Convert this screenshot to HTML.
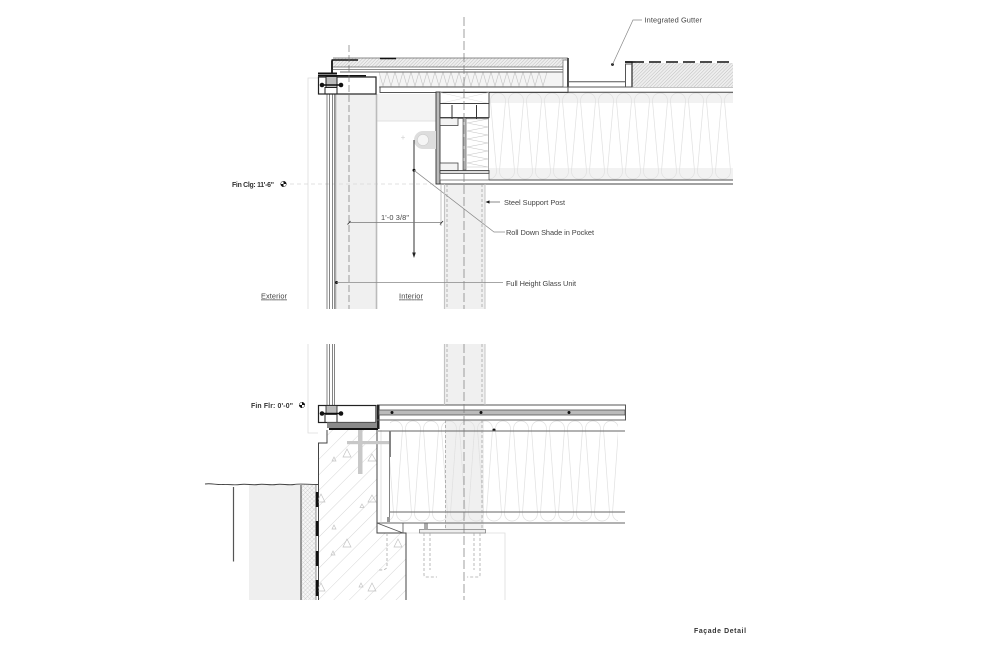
<!DOCTYPE html>
<html><head><meta charset="utf-8"><style>
html,body{margin:0;padding:0;background:#fff;width:1000px;height:647px;overflow:hidden}
svg{display:block;filter:blur(.3px)}
text{font-family:"Liberation Sans",sans-serif;font-size:7.4px;fill:#444}
.b{font-weight:bold;fill:#333;font-size:6.9px}
</style></head><body>
<svg width="1000" height="647" viewBox="0 0 1000 647" xmlns="http://www.w3.org/2000/svg">
<defs>
<pattern id="fine" patternUnits="userSpaceOnUse" width="2.4" height="2.4" patternTransform="rotate(45)"><rect width="2.4" height="2.4" fill="#eee"/><line x1="0" y1="0" x2="0" y2="2.4" stroke="#b5b5b5" stroke-width=".8"/></pattern>
<pattern id="cross" patternUnits="userSpaceOnUse" width="3" height="3" patternTransform="rotate(45)"><rect width="3" height="3" fill="#f6f6f6"/><path d="M0 0V3M0 0H3" stroke="#bbb" stroke-width=".6"/></pattern>
<pattern id="conc" patternUnits="userSpaceOnUse" width="11" height="11" patternTransform="rotate(45)"><line x1="0" y1="0" x2="0" y2="11" stroke="#c4c4c4" stroke-width=".7"/></pattern>
<pattern id="batt1" patternUnits="userSpaceOnUse" x="525" y="92" width="18" height="90"><path d="M-25.5,79 C-25.5,89.67 -10.5,89.67 -10.5,79 L-16.5,9 C-16.5,-1.67 -1.5,-1.67 -1.5,9 L-7.5,79 C-7.5,89.67 7.5,89.67 7.5,79 L1.5,9 C1.5,-1.67 16.5,-1.67 16.5,9 L10.5,79 C10.5,89.67 25.5,89.67 25.5,79 L19.5,9 C19.5,-1.67 34.5,-1.67 34.5,9 L28.5,79" fill="none" stroke="#e0e0e0" stroke-width=".7"/></pattern>
<pattern id="batt2" patternUnits="userSpaceOnUse" x="494" y="420" width="18" height="104"><path d="M-25.5,93 C-25.5,103.67 -10.5,103.67 -10.5,93 L-16.5,9 C-16.5,-1.67 -1.5,-1.67 -1.5,9 L-7.5,93 C-7.5,103.67 7.5,103.67 7.5,93 L1.5,9 C1.5,-1.67 16.5,-1.67 16.5,9 L10.5,93 C10.5,103.67 25.5,103.67 25.5,93 L19.5,9 C19.5,-1.67 34.5,-1.67 34.5,9 L28.5,93" fill="none" stroke="#e0e0e0" stroke-width=".7"/></pattern>
</defs>

<!-- light grey fills -->
<rect x="335" y="94" width="42" height="215" fill="#f0f0f0"/>
<rect x="377" y="94" width="59" height="27" fill="#f3f3f3"/>
<line x1="377" y1="121" x2="436" y2="121" stroke="#e2e2e2"/>
<rect x="445" y="184" width="40" height="125" fill="#f0f0f0"/>
<rect x="445" y="344" width="40" height="61" fill="#f0f0f0"/>
<rect x="445" y="420" width="39" height="109" fill="#f0f0f0"/>
<rect x="249" y="485" width="52" height="115" fill="#efefef"/>
<rect x="489" y="92" width="244" height="11" fill="#f2f2f2"/>
<rect x="489" y="168" width="244" height="12" fill="#f2f2f2"/>

<!-- light reference lines -->
<path d="M308 309V78H318M308 344V433H318" fill="none" stroke="#dcdcdc" stroke-width=".8"/>
<line x1="290" y1="184" x2="440" y2="184" stroke="#d8d8d8" stroke-width=".7" stroke-dasharray="4 3"/>
<path d="M406 533H505V600" fill="none" stroke="#ddd" stroke-width=".8"/>

<!-- batts -->
<rect x="489" y="92" width="244" height="90" fill="url(#batt1)"/>
<rect x="390" y="420" width="228" height="104" fill="url(#batt2)"/>

<!-- roof left part -->
<rect x="333" y="58" width="235" height="9" fill="url(#fine)"/>
<path d="M333 58H568M333 67H563M333 69.5H563" fill="none" stroke="#666" stroke-width=".8"/>
<rect x="379" y="72" width="184" height="15" fill="#f4f4f4"/>
<path d="M379 72 l4 14 4-14 4 14 4-14 4 14 4-14 4 14 4-14 4 14 4-14 4 14 4-14 4 14 4-14 4 14 4-14 4 14 4-14 4 14 4-14 4 14 4-14 4 14 4-14 4 14 4-14 4 14 4-14 4 14 4-14 4 14 4-14 4 14 4-14 4 14 4-14 4 14 4-14 4 14 4-14 4 14 4-14" fill="none" stroke="#c4c4c4" stroke-width=".6"/>
<path d="M340 72H563" stroke="#666" stroke-width=".9"/>
<path d="M379 87H733" stroke="#888" stroke-width="1"/>
<rect x="380" y="87" width="188" height="5.5" fill="#fff" stroke="#444" stroke-width=".9"/>
<path d="M440 92.3H733" stroke="#444" stroke-width="1"/>
<!-- parapet/gutter -->
<rect x="563" y="60" width="4.5" height="27" fill="#fff" stroke="#666" stroke-width=".7"/>
<path d="M568 58V87" stroke="#444" stroke-width="1.8"/>
<path d="M568 81.8H625M568 87H625" stroke="#555" stroke-width="1"/>
<rect x="632" y="63" width="101" height="24" fill="url(#fine)"/>
<rect x="625.5" y="64" width="6.5" height="23" fill="#fff" stroke="#555" stroke-width="1"/>
<path d="M625 62H632V87" fill="none" stroke="#444" stroke-width="1.4"/>
<line x1="632" y1="62" x2="731" y2="62" stroke="#111" stroke-width="1.6" stroke-dasharray="12 5"/>
<path d="M625 62H632" stroke="#111" stroke-width="1.6"/>
<!-- roof bottom -->
<path d="M489 180H733" stroke="#555" stroke-width="1"/>
<path d="M440 184H733" stroke="#444" stroke-width="1.1"/>

<!-- steel beam area -->
<rect x="436" y="92" width="4" height="92" fill="#bbb" stroke="#333" stroke-width=".9"/>
<rect x="440" y="92.5" width="49" height="11" fill="#fff" stroke="#333" stroke-width=".9"/>
<path d="M440 92.5L489 103.5M489 92.5L440 103.5" stroke="#ddd" stroke-width=".5"/>
<rect x="440" y="103.5" width="49" height="14" fill="#fff" stroke="#333" stroke-width=".9"/>
<path d="M440 118H489" stroke="#444" stroke-width="1.4"/>
<rect x="440" y="118" width="18" height="7.5" fill="#f3f3f3" stroke="#444" stroke-width=".8"/>
<rect x="440" y="163" width="18" height="7.5" fill="#f3f3f3" stroke="#444" stroke-width=".8"/>
<rect x="463" y="118" width="3" height="52" fill="#ccc" stroke="#444" stroke-width=".6"/>
<path d="M467 119h21l-21 4 21 4-21 4 21 4-21 4 21 4-21 4 21 4-21 4 21 4-21 4 21 4h-21" fill="none" stroke="#c4c4c4" stroke-width=".6"/>
<path d="M488.5 118V170" stroke="#888" stroke-width=".7"/>
<rect x="440" y="170.5" width="49" height="3" fill="#ddd" stroke="#333" stroke-width=".8"/>
<rect x="440" y="173.5" width="49" height="6.5" fill="#fff" stroke="#555" stroke-width=".7"/>
<path d="M452 105V119M476.500 105V119" stroke="#333" stroke-width="1"/>
<!-- roller -->
<rect x="423" y="131" width="13" height="18" fill="#ddd"/>
<circle cx="423" cy="140" r="9" fill="#ddd"/>
<circle cx="423" cy="140" r="5.6" fill="#f5f5f5" stroke="#ccc" stroke-width=".6"/>
<path d="M401 137.5h4M403 135.5v4" stroke="#ccc" stroke-width=".6"/>
<path d="M414 140V255" stroke="#333" stroke-width="1"/>
<path d="M412.2 252.5H415.8L414 258Z" fill="#222"/>
<circle cx="414" cy="170.3" r="1.5" fill="#111"/>
<path d="M414 170.3L494 232H505" fill="none" stroke="#888" stroke-width=".7"/>

<!-- glazing upper -->
<path d="M327 94V309M329.5 94V309M332.5 94V309M334.5 94V309" stroke="#666" stroke-width=".8"/>
<path d="M335.5 94V309" stroke="#aaa" stroke-width="1.6"/>
<path d="M376.5 94V309" stroke="#bbb" stroke-width="1.6"/>
<!-- glazing lower -->
<path d="M327 344V405M329.5 344V405M332.5 344V405M334.5 344V405" stroke="#666" stroke-width=".8"/>

<!-- head frame -->
<rect x="318.5" y="77" width="57.5" height="17" fill="#fff" stroke="#222" stroke-width="1.2"/>
<rect x="326" y="76.5" width="11" height="11" fill="#bbb" stroke="#222" stroke-width="1"/>
<path d="M318 73.5H337" stroke="#111" stroke-width="2"/>
<path d="M318 75.7H366" stroke="#111" stroke-width="1.3"/>
<path d="M332 60.5V73" stroke="#111" stroke-width="1.8"/>
<path d="M331.5 60H358M380 58.5H396" stroke="#111" stroke-width="1.4"/>
<path d="M320 85H343" stroke="#111" stroke-width="1.6"/>
<circle cx="322" cy="85" r="2.3" fill="#111"/><circle cx="341" cy="85" r="2.3" fill="#111"/>
<path d="M325 87V94M337 87V94" stroke="#222"/>

<!-- sill frame -->
<rect x="318.5" y="405.5" width="57.5" height="17" fill="#fff" stroke="#222" stroke-width="1.2"/>
<rect x="326" y="405.5" width="11" height="9" fill="#bbb" stroke="#222" stroke-width=".8"/>
<path d="M320 413.5H343" stroke="#111" stroke-width="1.6"/>
<circle cx="322" cy="413.5" r="2.3" fill="#111"/><circle cx="341" cy="413.5" r="2.3" fill="#111"/>
<path d="M325 414V422M337 414V422" stroke="#222"/>
<rect x="327" y="422.5" width="50" height="5.5" fill="#8a8a8a"/>
<rect x="329" y="428" width="49" height="2" fill="#111"/>

<!-- floor slab -->
<rect x="377.5" y="405" width="248" height="15" fill="#fff" stroke="#555" stroke-width="1"/>
<rect x="377" y="405" width="2.5" height="24" fill="#222"/>
<rect x="379" y="410" width="246" height="5" fill="#bbb" stroke="#555" stroke-width=".8"/>
<circle cx="392" cy="412.5" r="1.5" fill="#111"/><circle cx="481" cy="412.5" r="1.5" fill="#111"/><circle cx="569" cy="412.5" r="1.5" fill="#111"/>
<circle cx="494" cy="430" r="1.5" fill="#111"/>
<path d="M390 431H625M377 420H625" stroke="#666" stroke-width="1"/>
<path d="M390 512H625M377 523H625" stroke="#666" stroke-width="1.1"/>

<!-- concrete -->
<path d="M327 430V443H319V600H406V533H377V430Z" fill="url(#conc)"/>
<path d="M327 430V443H318.5V600M377 430V533H406V600" fill="none" stroke="#444" stroke-width="1"/>
<path d="M377 523L403 533M403 523V533" fill="none" stroke="#555" stroke-width=".8"/>
<path d="M381 430V523" stroke="#ccc" stroke-width=".6"/>
<path d="M378 431H390.5V457M389.5 431V520" fill="none" stroke="#777" stroke-width=".9"/>
<rect x="387" y="517" width="3" height="5" fill="#999"/>
<g fill="none" stroke="#c4c4c4" stroke-width=".7">
<path d="M347 449l4 8h-8zM334 457l2 4h-4zM372 495l4 7h-8zM321 494l4 8h-8zM362 504l2 3.500h-4zM347 539l4 8h-8zM333 551l2 4h-4zM321 583l4 8h-8zM372 583l4 8h-8zM398 539l4 8h-8zM361 583l2 4h-4zM372 454l4 7h-8zM334 525l2 4h-4z"/>
</g>
<rect x="347" y="441" width="42" height="3.200" fill="#c8c8c8"/>
<rect x="358" y="430" width="4.500" height="44" fill="#c8c8c8"/>

<!-- waterproofing + earth -->
<rect x="301" y="484" width="15" height="116" fill="url(#cross)"/>
<path d="M301 485V600" stroke="#444" stroke-width="1"/>
<path d="M316 485V600" stroke="#666" stroke-width=".7"/>
<path d="M317 492V507M317 521V536M317 551V566M317 580V596" stroke="#111" stroke-width="2.600"/>
<path d="M205 484c6-1 12 1 18 0.500s10 1 17 0 12 1 18 0 12 1 18 0 12 1 18 0 12 0 24 0" fill="none" stroke="#444" stroke-width=".9"/>
<path d="M233.500 487V561.500" stroke="#555" stroke-width="1.200"/>

<!-- base plate / anchors -->
<rect x="419.500" y="529.500" width="66" height="3.500" fill="#eee" stroke="#777" stroke-width=".7"/>
<rect x="424" y="523.500" width="4" height="6" fill="#aaa"/>
<path d="M424 533V575Q424 577 426 577H437M430 533V570M474 533V570M480 533V575Q480 577 478 577H467M387 533V566Q387 570 381 570H377" fill="none" stroke="#aaa" stroke-width=".8" stroke-dasharray="3 2"/>

<!-- post dashed -->
<g fill="none">
<path d="M444.500 184V309M444.500 344V405" stroke="#c4c4c4" stroke-width="1.200"/>
<path d="M485 184V309M485 344V405" stroke="#c4c4c4" stroke-width="1"/>
<path d="M447 184V309M482 184V309M447 344V405M482 344V405M445.500 420V529M482 420V529" stroke="#999" stroke-width=".7" stroke-dasharray="3 2"/>
<path d="M441 184V226" stroke="#aaa" stroke-width=".7"/>
</g>

<!-- center lines -->
<path d="M349 45V309" stroke="#777" stroke-width=".7" stroke-dasharray="7 3"/>
<path d="M464 17V309M464 344V600" stroke="#777" stroke-width=".7" stroke-dasharray="9 3"/>

<!-- dimension -->
<path d="M349 222.500H442" stroke="#777" stroke-width=".7"/>
<path d="M347.500 224.500l3-3.500M440 224.500l3-3.500" stroke="#333" stroke-width=".9"/>
<text x="381" y="220" textLength="28" lengthAdjust="spacing">1'-0 3/8"</text>

<!-- leaders -->
<circle cx="612.500" cy="64.500" r="1.400" fill="#111"/>
<path d="M612.500 64.500L633 20H642" fill="none" stroke="#888" stroke-width=".7"/>
<text x="644.500" y="22.500" textLength="57.500" lengthAdjust="spacing">Integrated Gutter</text>
<path d="M489 202H500" stroke="#555" stroke-width=".7"/>
<path d="M485.500 202l4-1.600v3.200z" fill="#111"/>
<text x="504" y="204.800" textLength="61" lengthAdjust="spacing">Steel Support Post</text>
<text x="506" y="235" textLength="88" lengthAdjust="spacing">Roll Down Shade in Pocket</text>
<circle cx="336.500" cy="282.500" r="1.500" fill="#111"/>
<path d="M336.500 282.500H503" stroke="#888" stroke-width=".7"/>
<text x="506" y="285.800" textLength="70" lengthAdjust="spacing">Full Height Glass Unit</text>
<text x="261" y="298.500" textLength="26" lengthAdjust="spacing" text-decoration="underline">Exterior</text>
<text x="399" y="298.500" textLength="24" lengthAdjust="spacing" text-decoration="underline">Interior</text>
<text class="b" x="232" y="186.800" textLength="42" lengthAdjust="spacing">Fin Clg: 11'-6"</text>
<text class="b" x="251" y="407.800" textLength="42" lengthAdjust="spacing">Fin Flr: 0'-0"</text>
<text class="b" x="694" y="632.800" textLength="52" lengthAdjust="spacing">Façade Detail</text>

<!-- level markers -->
<circle cx="283.500" cy="184" r="2.800" fill="#fff" stroke="#222" stroke-width=".5"/>
<path d="M283.500 184V181.200A2.800 2.800 0 0 1 286.300 184ZM283.500 184V186.800A2.800 2.800 0 0 1 280.700 184Z" fill="#111"/>
<circle cx="302" cy="405" r="2.800" fill="#fff" stroke="#222" stroke-width=".5"/>
<path d="M302 405V402.200A2.800 2.800 0 0 1 304.800 405ZM302 405V407.800A2.800 2.800 0 0 1 299.200 405Z" fill="#111"/>
</svg>
</body></html>
